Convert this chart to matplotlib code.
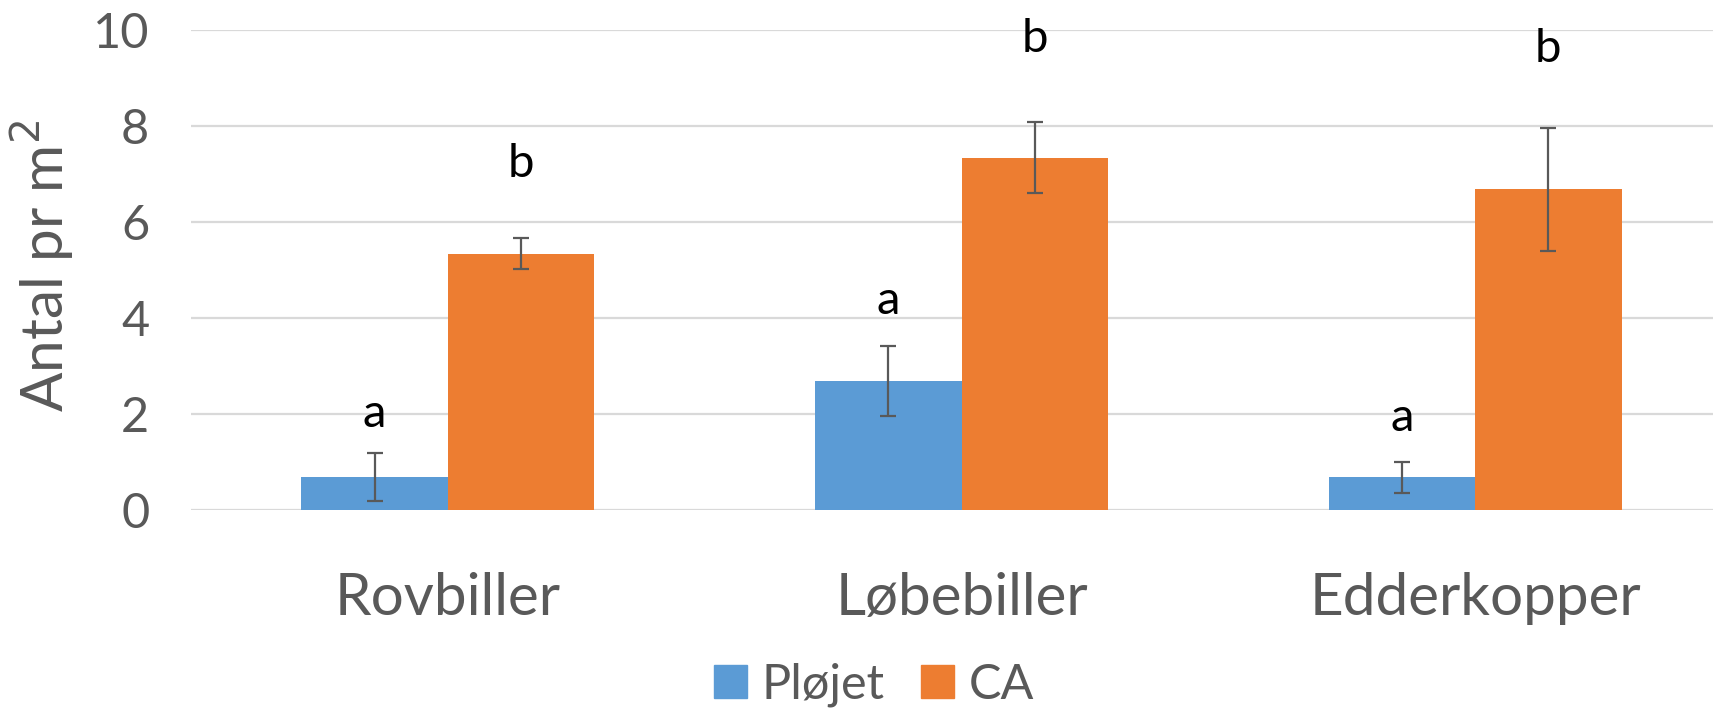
import matplotlib
matplotlib.use("Agg")
import matplotlib.pyplot as plt
import numpy as np

plt.rcParams['font.family'] = ['Lato', 'DejaVu Sans']

categories = ["Rovbiller", "Løbebiller", "Edderkopper"]
series_names = ["Pløjet", "CA"]
plojet = [0.67, 2.67, 0.67]
plojet_err = [0.5, 0.73, 0.32]
ca = [5.33, 7.33, 6.67]
ca_err = [0.32, 0.74, 1.29]
# significance letters and their heights
plojet_letters = ["a", "a", "a"]
plojet_letter_y = [2.0, 4.35, 1.9]
ca_letters = ["b", "b", "b"]
ca_letter_y = [7.2, 9.8, 9.6]
yticks = [0, 2, 4, 6, 8, 10]

blue = "#5B9BD5"
orange = "#ED7D31"
grey = "#595959"

fig = plt.figure(figsize=(17.13, 7.09), dpi=100)
ax = fig.add_axes([191 / 1713, 199.5 / 709, 1541 / 1713, 479.8 / 709])

x = np.arange(len(categories))
w = 0.285
ax.bar(x - w / 2, plojet, w, color=blue, zorder=2)
ax.bar(x + w / 2, ca, w, color=orange, zorder=2)
ax.errorbar(x - w / 2, plojet, yerr=plojet_err, fmt="none", ecolor=grey,
            elinewidth=1.6, capsize=5.5, capthick=1.6, zorder=3)
ax.errorbar(x + w / 2, ca, yerr=ca_err, fmt="none", ecolor=grey,
            elinewidth=1.6, capsize=5.5, capthick=1.6, zorder=3)

for i in range(len(categories)):
    ax.text(x[i] - w / 2, plojet_letter_y[i], plojet_letters[i], ha="center",
            va="center", fontsize=34, color="black")
    ax.text(x[i] + w / 2, ca_letter_y[i], ca_letters[i], ha="center",
            va="center", fontsize=34, color="black")

ax.set_xlim(-0.5, len(categories) - 0.5)
ax.set_ylim(0, 10)
ax.set_yticks(yticks)
ax.set_xticks(x)
ax.set_xticklabels(categories)
ax.yaxis.grid(True, color="#D9D9D9", linewidth=1.6, zorder=0)
ax.set_axisbelow(True)
for s in ax.spines.values():
    s.set_visible(False)
ax.tick_params(axis="y", length=0, pad=30, labelsize=35, labelcolor=grey)
ax.tick_params(axis="x", length=0, pad=45, labelsize=42, labelcolor=grey)
fig.text(42 / 1713, 0.625, "Antal pr m$^2$", rotation=90, ha="center", va="center",
         fontsize=42, color=grey)

handles = [plt.Rectangle((0, 0), 1, 1, color=blue),
           plt.Rectangle((0, 0), 1, 1, color=orange)]
fig.legend(handles, series_names, loc="center", bbox_to_anchor=(874 / 1713, 24 / 709),
           ncol=2, frameon=False, fontsize=35, labelcolor=grey,
           handlelength=0.68, handleheight=0.68, handletextpad=0.3,
           columnspacing=0.75, borderpad=0)

fig.savefig("out.png", dpi=100)
